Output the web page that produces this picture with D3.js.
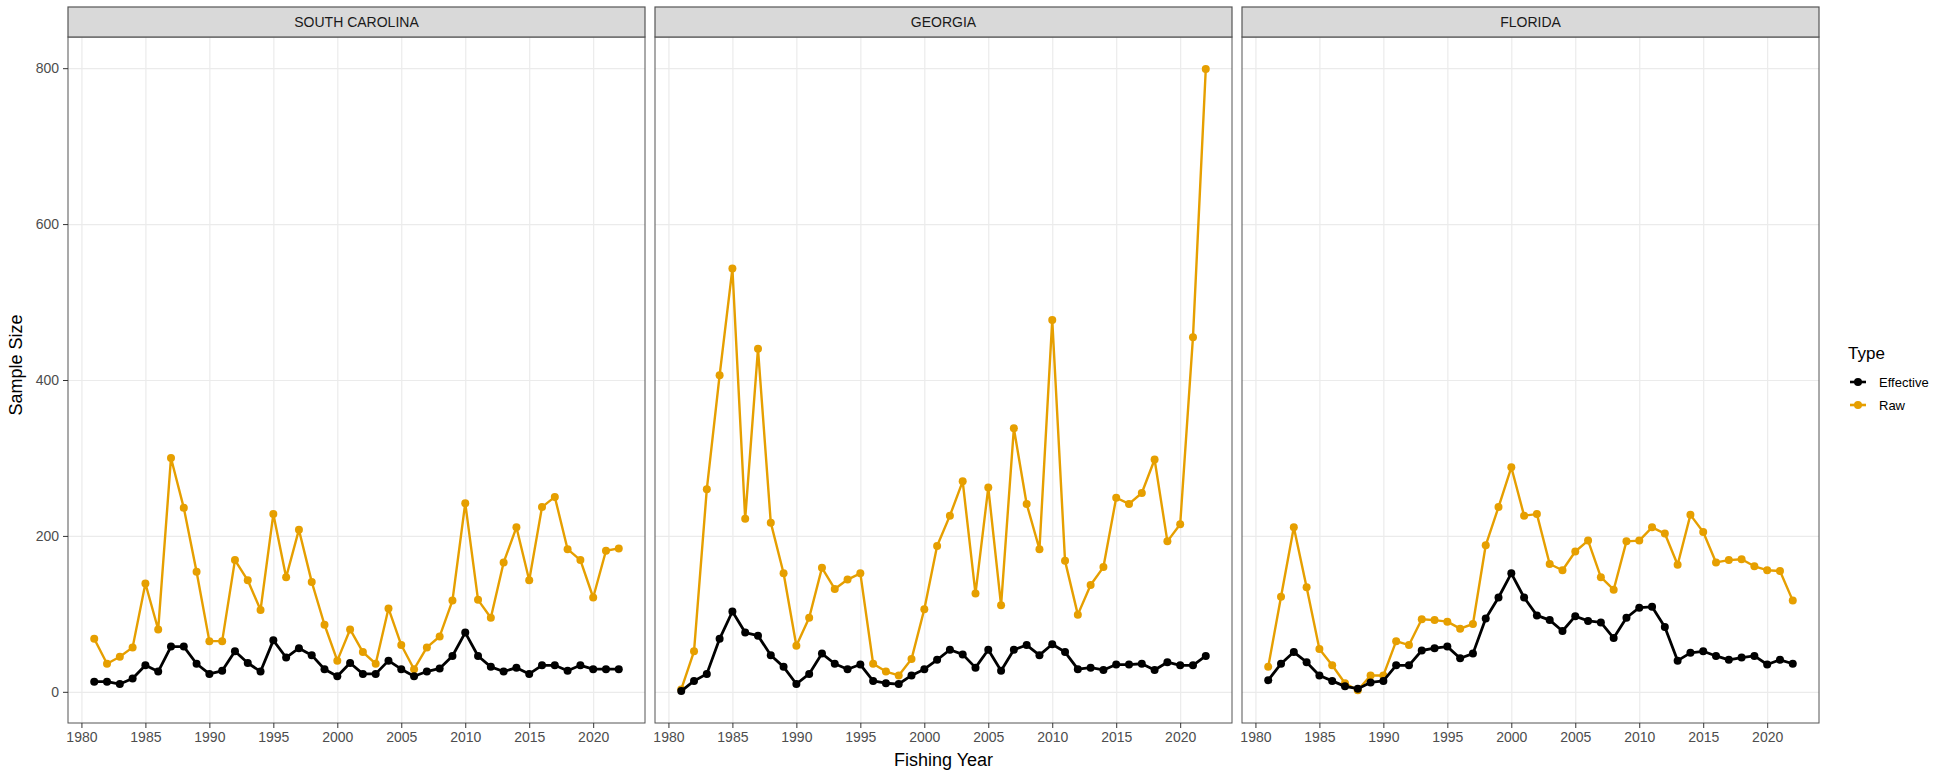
<!DOCTYPE html>
<html lang="en">
<head>
<meta charset="utf-8">
<title>Sample Size by State</title>
<style>
  body { margin: 0; background: #fff; }
  svg text { font-family: "Liberation Sans", Arial, sans-serif; }
  .gridlines line { stroke: #ebebeb; stroke-width: 1.2; }
  .gridlines .domain { stroke: none; }
  .axis .domain { stroke: none; }
  .axis line { stroke: #333; }
  .axis text { fill: #4d4d4d; font-size: 14px; }
</style>
</head>
<body>
<svg id="chart" width="1959" height="773"></svg>
<script src="https://d3js.org/d3.v7.min.js"></script>
<script>
const years = [1981, 1982, 1983, 1984, 1985, 1986, 1987, 1988, 1989, 1990,
  1991, 1992, 1993, 1994, 1995, 1996, 1997, 1998, 1999, 2000,
  2001, 2002, 2003, 2004, 2005, 2006, 2007, 2008, 2009, 2010,
  2011, 2012, 2013, 2014, 2015, 2016, 2017, 2018, 2019, 2020,
  2021, 2022];

const states = ["SOUTH CAROLINA", "GEORGIA", "FLORIDA"];
const types = ["Effective", "Raw"];

const scRaw = [68, 36, 45, 57, 139, 80, 300, 236, 154, 65,
  65, 169, 143, 105, 228, 147, 208, 141, 86, 40,
  80, 51, 36, 107, 60, 29, 57, 71, 117, 242,
  118, 95, 166, 211, 143, 237, 250, 183, 169, 121,
  181, 184];
const scEff = [13, 13, 10, 17, 34, 26, 58, 58, 36, 23,
  27, 52, 37, 26, 66, 44, 56, 47, 29, 20,
  37, 23, 23, 40, 29, 20, 26, 30, 46, 76,
  46, 32, 26, 31, 23, 34, 34, 27, 34, 29,
  29, 29];

const gaRaw = [3, 52, 260, 406, 543, 222, 440, 217, 152, 59,
  95, 159, 132, 144, 152, 36, 26, 21, 42, 106,
  187, 226, 270, 126, 262, 111, 338, 241, 183, 477,
  168, 99, 137, 160, 249, 241, 255, 298, 193, 215,
  455, 799];
const gaEff = [1, 14, 23, 68, 103, 76, 72, 47, 32, 10,
  23, 49, 36, 29, 35, 14, 11, 10, 21, 29,
  41, 54, 48, 31, 54, 27, 54, 60, 47, 61,
  51, 29, 31, 28, 35, 35, 36, 28, 38, 34,
  34, 46];

const flRaw = [32, 122, 211, 134, 55, 34, 11, 2, 21, 21,
  65, 60, 93, 92, 90, 81, 87, 188, 237, 288,
  226, 228, 164, 156, 180, 194, 147, 131, 193, 194,
  211, 203, 163, 227, 205, 166, 169, 170, 161, 156,
  155, 117];
const flEff = [15, 36, 51, 38, 21, 14, 7, 4, 12, 14,
  34, 34, 53, 56, 58, 43, 49, 94, 121, 152,
  121, 98, 92, 78, 97, 91, 89, 69, 95, 108,
  109, 83, 40, 50, 52, 46, 41, 44, 46, 35,
  41, 36];

const yTicks = [0, 200, 400, 600, 800];
const xTicks = [1980, 1985, 1990, 1995, 2000, 2005, 2010, 2015, 2020];

const seriesByState = {
  "SOUTH CAROLINA": { Effective: scEff, Raw: scRaw },
  "GEORGIA": { Effective: gaEff, Raw: gaRaw },
  "FLORIDA": { Effective: flEff, Raw: flRaw }
};

const colors = d3.scaleOrdinal().domain(types).range(["#000000", "#E69F00"]);

const panelLeft = 68, panelW = 577, gap = 10;
const stripTop = 7, stripH = 30;
const panelTop = stripTop + stripH, panelBottom = 723;
const panelH = panelBottom - panelTop;

const svg = d3.select("#chart");

const x = d3.scaleLinear().domain([1978.95, 2024.05]).range([0, panelW]);
const y = d3.scaleLinear().domain([-40, 840]).range([panelH, 0]);

const line = d3.line()
  .x((d, i) => x(years[i]))
  .y(d => y(d));

states.forEach((st, si) => {
  const px = panelLeft + si * (panelW + gap);
  const g = svg.append("g").attr("transform", `translate(${px},${panelTop})`);

  // gridlines
  g.append("g")
    .attr("class", "gridlines")
    .call(d3.axisLeft(y).tickValues(yTicks).tickSize(-panelW).tickFormat(""));
  g.append("g")
    .attr("class", "gridlines")
    .attr("transform", `translate(0,${panelH})`)
    .call(d3.axisBottom(x).tickValues(xTicks).tickSize(-panelH).tickFormat(""));

  // series: Raw first, Effective on top
  ["Raw", "Effective"].forEach(t => {
    const vals = seriesByState[st][t];
    g.append("path")
      .datum(vals)
      .attr("d", line)
      .attr("fill", "none")
      .attr("stroke", colors(t))
      .attr("stroke-width", t === "Raw" ? 2.4 : 2.8)
      .attr("stroke-linejoin", "round");
    g.selectAll(null).data(vals)
      .join("circle")
      .attr("cx", (d, i) => x(years[i]))
      .attr("cy", d => y(d))
      .attr("r", 4)
      .attr("fill", colors(t));
  });

  // panel border
  g.append("rect")
    .attr("width", panelW).attr("height", panelH)
    .attr("fill", "none").attr("stroke", "#555").attr("stroke-width", 1);

  // strip
  svg.append("rect")
    .attr("x", px).attr("y", stripTop)
    .attr("width", panelW).attr("height", stripH)
    .attr("fill", "#d9d9d9").attr("stroke", "#555").attr("stroke-width", 1.2);
  svg.append("text")
    .attr("x", px + panelW / 2).attr("y", stripTop + stripH / 2)
    .attr("text-anchor", "middle").attr("dominant-baseline", "central")
    .attr("font-size", 14).attr("fill", "#1a1a1a")
    .text(st);

  // bottom axis
  g.append("g")
    .attr("class", "axis")
    .attr("transform", `translate(0,${panelH})`)
    .call(d3.axisBottom(x).tickValues(xTicks).tickSize(5).tickPadding(4).tickFormat(d3.format("d")));

  if (si === 0) {
    g.append("g")
      .attr("class", "axis")
      .call(d3.axisLeft(y).tickValues(yTicks).tickSize(5).tickPadding(4));
  }
});

// axis titles
svg.append("text")
  .attr("x", panelLeft + (3 * panelW + 2 * gap) / 2).attr("y", 766)
  .attr("text-anchor", "middle")
  .attr("font-size", 18).attr("fill", "#000")
  .text("Fishing Year");

svg.append("text")
  .attr("transform", `translate(22,${(stripTop + panelBottom) / 2}) rotate(-90)`)
  .attr("text-anchor", "middle")
  .attr("font-size", 18).attr("fill", "#000")
  .text("Sample Size");

// legend
const lg = svg.append("g").attr("transform", "translate(1848,0)");
lg.append("text")
  .attr("x", 0).attr("y", 353)
  .attr("dominant-baseline", "central")
  .attr("font-size", 17).attr("fill", "#000")
  .text("Type");

types.forEach((t, i) => {
  const ky = 382 + i * 23;
  lg.append("line")
    .attr("x1", 2).attr("x2", 18).attr("y1", ky).attr("y2", ky)
    .attr("stroke", colors(t)).attr("stroke-width", 2.6);
  lg.append("circle")
    .attr("cx", 10).attr("cy", ky).attr("r", 4)
    .attr("fill", colors(t));
  lg.append("text")
    .attr("x", 31).attr("y", ky)
    .attr("dominant-baseline", "central")
    .attr("font-size", 13).attr("fill", "#000")
    .text(t);
});
</script>
</body>
</html>
